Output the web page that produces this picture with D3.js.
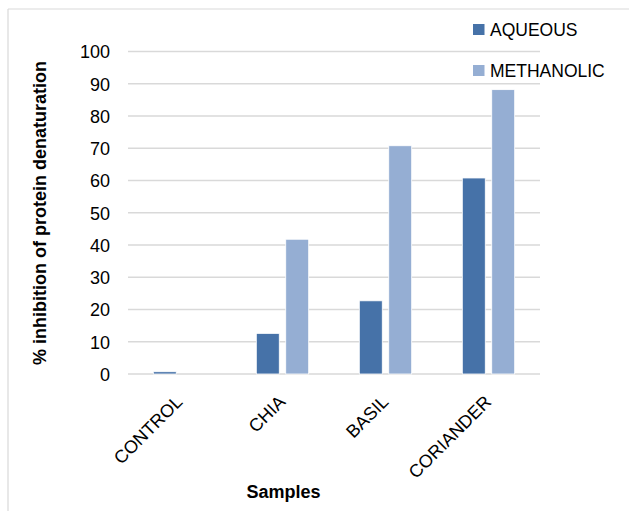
<!DOCTYPE html>
<html><head><meta charset="utf-8">
<script src="https://cdn.jsdelivr.net/npm/d3@7"></script>
<style>body{margin:0;background:#fff}svg{display:block}text{font-family:"Liberation Sans",Arial,sans-serif;fill:#000}</style>
</head><body>
<script>
const categories = ["CONTROL", "CHIA", "BASIL", "CORIANDER"];
const seriesNames = ["AQUEOUS", "METHANOLIC"];
const aqueous = [0.7, 12.6, 22.7, 60.8];
const methanolic = [0, 41.8, 70.8, 88.2];
const yTicks = [0, 10, 20, 30, 40, 50, 60, 70, 80, 90, 100];
const colors = ["#4672a8", "#95aed3"];

const W = 629, H = 511;
const svg = d3.select("body").append("svg").attr("width", W).attr("height", H);

// outer frame (top and left edges visible)
svg.append("line").attr("x1", 8).attr("y1", 9).attr("x2", W).attr("y2", 9).attr("stroke", "#d9d9d9").attr("stroke-width", 1.2);
svg.append("line").attr("x1", 8).attr("y1", 9).attr("x2", 8).attr("y2", H).attr("stroke", "#d9d9d9").attr("stroke-width", 1.2);

const plotL = 128, plotR = 540, plotT = 51.6, plotB = 374;
const y = d3.scaleLinear().domain([0, 100]).range([plotB, plotT]);
const x0 = d3.scaleBand().domain(categories).range([plotL, plotR]).padding(0);
const x1 = d3.scaleBand().domain(seriesNames).range([0, x0.bandwidth()]).paddingInner(0.22).paddingOuter(0.86);

// gridlines
svg.append("g").selectAll("line").data(yTicks).join("line")
  .attr("x1", plotL).attr("x2", plotR)
  .attr("y1", d => y(d)).attr("y2", d => y(d))
  .attr("stroke", "#d9d9d9").attr("stroke-width", 1.5);

// y tick labels
const yAxis = d3.axisLeft(y).tickValues(yTicks).tickSize(0).tickPadding(0);
const ya = svg.append("g").attr("transform", `translate(110,0)`).call(yAxis);
ya.select(".domain").remove();
ya.selectAll("text").style("font-size", "18px").style("font-family", "'Liberation Sans',Arial,sans-serif").attr("fill", "#000").attr("dy", "0.35em");

// bars
const data = categories.map((c, i) => ({cat: c, vals: [aqueous[i], methanolic[i]]}));
const g = svg.append("g").selectAll("g").data(data).join("g")
  .attr("transform", d => `translate(${x0(d.cat)},0)`);
g.selectAll("rect").data(d => d.vals.map((v, j) => ({s: seriesNames[j], v, j})).filter(e => e.v > 0)).join("rect")
  .attr("x", e => x1(e.s)).attr("width", x1.bandwidth())
  .attr("y", e => y(e.v)).attr("height", e => y(0) - y(e.v))
  .attr("fill", e => colors[e.j]).attr("stroke", "#ffffff").attr("stroke-width", 0.8);

// x category labels
const xAxis = d3.axisBottom(x0).tickSize(0).tickPadding(0);
const xa = svg.append("g").attr("transform", `translate(0,${plotB})`).call(xAxis);
xa.select(".domain").remove();
xa.selectAll("text")
  .style("font-size", "18px").style("font-family", "'Liberation Sans',Arial,sans-serif").attr("fill", "#000")
  .attr("text-anchor", "end").attr("dy", null).attr("y", 0)
  .attr("transform", "translate(4,29) rotate(-45)");

// axis titles
svg.append("text").attr("x", 283.5).attr("y", 498).attr("text-anchor", "middle")
  .style("font-size", "18px").style("font-weight", "bold").text("Samples");
svg.append("text").attr("transform", "translate(46,213) rotate(-90)").attr("text-anchor", "middle")
  .style("font-size", "18px").style("font-weight", "bold").text("% inhibition of protein denaturation");

// legend
const leg = svg.append("g").selectAll("g").data(seriesNames).join("g")
  .attr("transform", (d, i) => `translate(473,${24 + i * 41})`);
leg.append("rect").attr("width", 11.5).attr("height", 11).attr("fill", (d, i) => colors[i]);
leg.append("text").attr("x", 17).attr("y", 11.5).style("font-size", "17.5px").text(d => d);
</script>
</body></html>
